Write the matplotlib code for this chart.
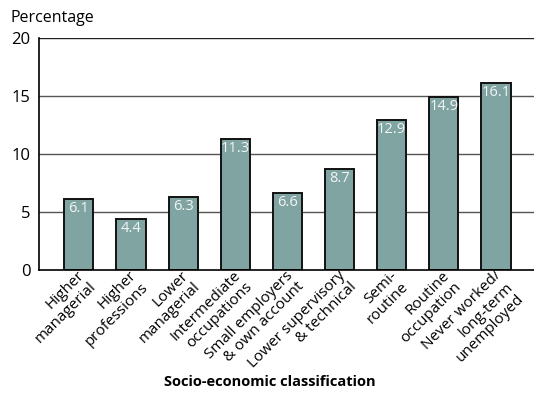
import matplotlib
matplotlib.use("Agg")
import matplotlib.pyplot as plt
from matplotlib.transforms import ScaledTranslation

categories = [
    "Higher\nmanagerial",
    "Higher\nprofessions",
    "Lower\nmanagerial",
    "Intermediate\noccupations",
    "Small employers\n& own account",
    "Lower supervisory\n& technical",
    "Semi-\nroutine",
    "Routine\noccupation",
    "Never worked/\nlong-term\nunemployed",
]
values = [6.1, 4.4, 6.3, 11.3, 6.6, 8.7, 12.9, 14.9, 16.1]
yticks = [0, 5, 10, 15, 20]

plt.rcParams["font.family"] = ["Open Sans", "DejaVu Sans"]

fig = plt.figure(figsize=(5.34, 3.98), dpi=100)
ax = fig.add_axes([39 / 534, 1 - 270 / 398, 1 - 39 / 534, (270 - 38) / 398])

bar_color = "#80a4a2"
x = list(range(len(values)))

for y in yticks[1:]:
    ax.axhline(y, color="#555555" if y < 20 else "#222222", lw=1.0, zorder=0)

ax.bar(x, values, width=0.56, color=bar_color, edgecolor="#111111",
       linewidth=1.4, zorder=2)

for xi, v in zip(x, values):
    ax.text(xi, v - 0.15, f"{v}", ha="center", va="top", color="#f2f5f5",
            fontsize=10.5, zorder=3)

ax.set_xlim(-0.765, 8.73)
ax.set_ylim(0, 20)
ax.set_yticks(yticks)
ax.tick_params(axis="y", length=0, labelsize=12, pad=6)
ax.tick_params(axis="x", length=0, pad=0)
ax.set_xticks(x)
ax.set_xticklabels(categories, rotation=45, ha="right", va="top",
                   rotation_mode="anchor", fontsize=11,
                   multialignment="right", linespacing=1.1)
# small nudge so the slanted labels hang just under each bar centre
shift = ScaledTranslation(-2 / 100, 2 / 100, fig.dpi_scale_trans)
for lab in ax.get_xticklabels():
    lab.set_transform(lab.get_transform() + shift)
for s in ["top", "right"]:
    ax.spines[s].set_visible(False)
ax.spines["left"].set_linewidth(1.2)
ax.spines["bottom"].set_linewidth(1.2)

fig.text(10 / 534, 1 - 18 / 398, "Percentage", fontsize=11.5, va="center", ha="left")
fig.text(270 / 534, 1 - 382 / 398, "Socio-economic classification", fontsize=10.5,
         fontweight="bold", ha="center", va="center")

fig.savefig("out.png", dpi=100)
